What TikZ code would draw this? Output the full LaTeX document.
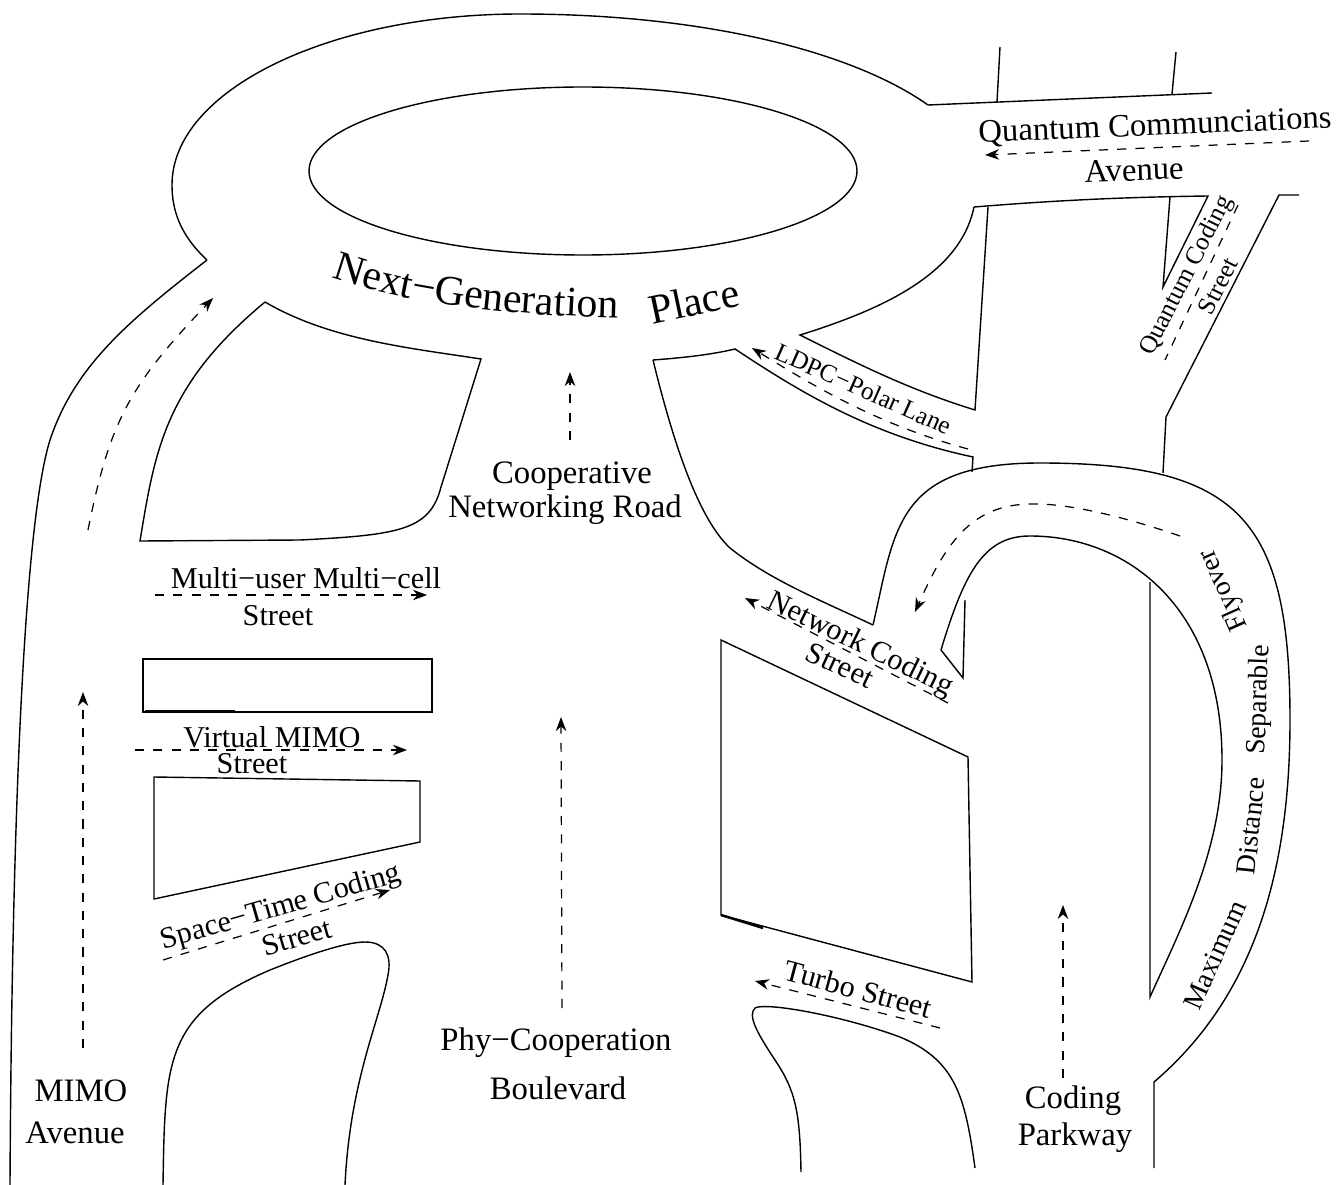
\documentclass[tikz,border=0pt]{standalone}
\usepackage{fontspec}
\setmainfont{Liberation Serif}
\usetikzlibrary{arrows.meta,decorations.text}
\tikzset{
road/.style={line width=0.4pt,line join=miter},
way/.style={line width=0.35pt,dash pattern=on 2.6pt off 2.6pt},
dir/.style={way,-{Stealth[length=4pt,width=3pt]}},
bigname/.style={inner sep=0pt,font=\fontsize{11.9}{14}\selectfont},
mainname/.style={inner sep=0pt,font=\fontsize{9.3}{11}\selectfont},
midname/.style={inner sep=0pt,font=\fontsize{8.6}{10}\selectfont},
flyname/.style={inner sep=0pt,font=\fontsize{7.9}{9}\selectfont},
smallname/.style={inner sep=0pt,font=\fontsize{7.2}{9}\selectfont}
}
\begin{document}
\begin{tikzpicture}[x=0.01cm,y=-0.01cm]
\useasboundingbox (0,0) rectangle (1336,1185);
%outer contour and the place
\draw[road] (207,260) .. controls (130,320) and (75,365) .. (50,440) .. controls (25,520) and (12,800) .. (10,1185);
\draw[road] (207,260) .. controls (180,235) and (172,210) .. (172,185) .. controls (172,90) and (330,14) .. (520,14) .. controls (700,14) and (850,50) .. (928,105);
\draw[road] (583,171) ellipse (274 and 84);
\draw[road] (928,105)--(1212,93);
\draw[road] (997,102)--(1000,47);
\draw[road] (1172,94)--(1176,52);
%left blocks
\draw[road] (265,302) .. controls (330,340) and (410,348) .. (481,359)--(441,487) .. controls (430,530) and (400,535) .. (300,540)--(140,541) .. controls (155,450) and (165,385) .. (265,302);
\draw[road] (143,659) rectangle (432,712);
\draw[line width=0.7pt] (145,711)--(235,711);
\draw[road] (154,777)--(420,781)--(420,842)--(154,899)--cycle;
\draw[road] (163,1185) .. controls (165,1060) and (165,1015) .. (270,970) .. controls (320,950) and (350,942) .. (365,942) .. controls (385,942) and (392,955) .. (388,975) .. controls (380,1020) and (350,1080) .. (345,1185);
%right blocks
\draw[road] (974,207) .. controls (960,275) and (880,310) .. (800,335) .. controls (860,365) and (910,390) .. (975,410)--(988,207);
\draw[road] (974,207) .. controls (1060,200) and (1130,197) .. (1208,196)--(1163,287)--(1170,197);
\draw[road] (1299,195)--(1279,195)--(1166,417)--(1163,473);
\draw[road] (653,360) .. controls (680,358) and (710,355) .. (735,349) .. controls (800,392) and (870,435) .. (973,457)--(972,472);
\draw[road] (653,360) .. controls (675,450) and (700,520) .. (730,548) .. controls (770,580) and (820,600) .. (873,625);
\draw[road] (721,640)--(968,757)--(972,982)--(721,915)--cycle;
\draw[line width=0.7pt] (721,915)--(763,928);
\draw[road] (801,1172) .. controls (800,1110) and (795,1090) .. (775,1060) .. controls (755,1030) and (748,1015) .. (755,1008) .. controls (765,1002) and (840,1015) .. (900,1037) .. controls (955,1060) and (965,1095) .. (975,1168);
%flyover
\draw[road] (873,625) .. controls (895,530) and (895,463) .. (1040,463) .. controls (1240,463) and (1290,520) .. (1290,720) .. controls (1290,880) and (1250,1000) .. (1154,1082)--(1154,1168);
\draw[road] (941,650) .. controls (965,570) and (985,536) .. (1030,536) .. controls (1130,536) and (1222,610) .. (1222,760) .. controls (1222,850) and (1180,930) .. (1150,997)--(1150,582);
\draw[road] (941,650)--(963,678)--(965,600);
%directions
\draw[dir] (88,530) .. controls (110,420) and (130,385) .. (213,298);
\draw[dir] (570,440)--(570,372);
\draw[dir] (155,595)--(427,595);
\draw[dir] (135,750)--(407,750);
\draw[dir] (83,1048)--(83,692);
\draw[dir] (562,1008)--(561,717);
\draw[dir] (163,960)--(390,890);
\draw[dir] (1063,1078)--(1063,905);
\draw[dir] (940,1028)--(755,981);
\draw[dir] (948,703)--(745,598);
\draw[dir] (1180,536) .. controls (1110,512) and (1060,503) .. (1030,504) .. controls (970,505) and (945,545) .. (915,612);
\draw[dir] (968,449) .. controls (880,425) and (820,390) .. (752,348);
\draw[dir] (1309,141)--(985,155);
\draw[way] (1238,205)--(1165,360);
%names
\path[decorate,decoration={text along path,text align=center,text={|\fontsize{11.9}{14}\selectfont|Next−Generation}}] (333,278) .. controls (400,302) and (500,315) .. (617,318);
\node[bigname,rotate=12] (place) at (694,301) {Place};
\node[mainname,rotate=2.4] (quantum) at (1155,127) {Quantum Communciations};
\node[mainname,rotate=2] (quantumave) at (1134,170) {Avenue};
\node[smallname,rotate=63] (qcoding) at (1187,276) {Quantum Coding};
\node[smallname,rotate=63] (qstreet) at (1218,286) {Street};
\node[smallname,rotate=-24] (ldpc) at (864,389) {LDPC−Polar Lane};
\node[mainname] (coop) at (572,476) {Cooperative};
\node[mainname] (coopnet) at (565,510) {Networking Road};
\node[midname] (multi) at (306,578) {Multi−user Multi−cell};
\node[midname] (multist) at (278,616) {Street};
\node[midname] (virtual) at (272,737) {Virtual MIMO};
\node[midname] (virtualst) at (252,764) {Street};
\node[midname,rotate=16] (space) at (281,908) {Space−Time Coding};
\node[midname,rotate=16] (spacest) at (297,937) {Street};
\node[midname,rotate=-26] (network) at (860,645) {Network Coding};
\node[midname,rotate=-25] (networkst) at (840,665) {Street};
\node[midname,rotate=-15] (turbo) at (858,989) {Turbo Street};
\node[mainname] (phy) at (556,1043) {Phy−Cooperation};
\node[mainname] (phyb) at (558,1088) {Boulevard};
\node[mainname] (coding) at (1073,1101) {Coding};
\node[mainname] (codingp) at (1075,1138) {Parkway};
\node[mainname] (mimo) at (81,1091) {MIMO};
\node[mainname] (mimoa) at (75,1133) {Avenue};
\node[flyname,rotate=66] (maximum) at (1215,955) {Maximum};
\node[flyname,rotate=84] (distance) at (1251,826) {Distance};
\node[flyname,rotate=88] (separable) at (1260,700) {Separable};
\node[flyname,rotate=114] (flyover) at (1224,590) {Flyover};
\end{tikzpicture}
\end{document}
